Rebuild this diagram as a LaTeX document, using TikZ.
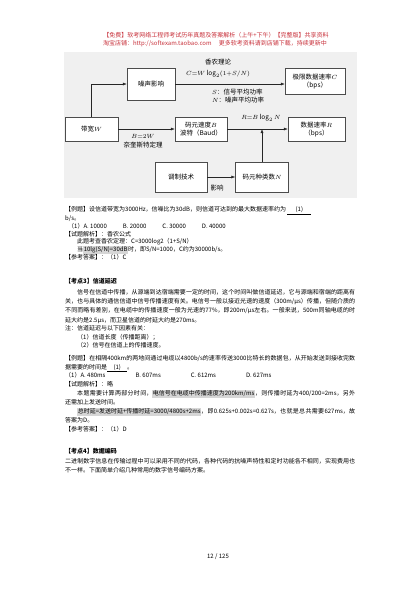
\documentclass[tikz,border=0pt]{standalone}
\usepackage{fontspec}
\setmainfont{Noto Sans CJK SC}
\usepackage{xcolor}
\usepackage{tikz}
\usetikzlibrary{arrows.meta}
\XeTeXlinebreaklocale "zh"
\XeTeXlinebreakskip = 0pt plus 1pt

\definecolor{hdred}{HTML}{C8303A}
\definecolor{figbg}{HTML}{F0F0F0}
\definecolor{hlgray}{HTML}{D6D6D6}
\setlength{\fboxsep}{0.6pt}
\newcommand{\hlbox}[1]{\colorbox{hlgray}{#1}}
\newcommand{\blank}[1]{\underline{\makebox[#1]{(1)}}}

\tikzset{
  box/.style={draw=black!70, fill=white, align=center, inner sep=1pt,
              font=\fontsize{6.5}{8}\selectfont},
  lbl/.style={font=\fontsize{6.5}{8}\selectfont, inner sep=0pt},
  arr/.style={-{Latex[length=4pt,width=3pt]}, black!85, line width=0.5pt},
  para/.style={anchor=north west, text width=290pt, align=justify, inner sep=0pt,
               font=\fontsize{6}{8.8}\selectfont},
  tight/.style={font=\fontsize{6}{7.9}\selectfont},
  loose/.style={font=\fontsize{6}{9.3}\selectfont},
  head/.style={font=\fontsize{6}{8}\selectfont, text=hdred, inner sep=0pt}
}

\begin{document}
\begin{tikzpicture}[x=1pt,y=-1pt]
        \useasboundingbox (0,0) rectangle (420,595);
        \fill[white] (0,0) rectangle (420,595);

        % header lines
        \node[head] (hdA) at (216,35) {【免费】软考网络工程师考试历年真题及答案解析（上午+下午）【完整版】共享资料};
        \node[head] (hdB) at (215,44) {淘宝店铺：http://softexam.taobao.com \quad 更多软考资料请到店铺下载，持续更新中};

        % figure background
        \fill[figbg] (64,52) rectangle (357,198);

        % boxes
        \node[box, minimum width=53pt, minimum height=24pt] (W)     at ( 91.5,129) {带宽$W$};
        \node[box, minimum width=48pt, minimum height=32pt] (noise) at (151,  84)  {噪声影响};
        \node[box, minimum width=60pt, minimum height=26pt] (C)     at (315,  81)  {极限数据速率$C$\\（bps）};
        \node[box, minimum width=52pt, minimum height=24pt] (B)     at (201, 129)  {码元速度$B$\\波特（Baud）};
        \node[box, minimum width=57pt, minimum height=24pt] (R)     at (316.5,129) {数据速率$R$\\（bps）};
        \node[box, minimum width=52pt, minimum height=30pt] (mod)   at (181, 177)  {调制技术};
        \node[box, minimum width=53pt, minimum height=30pt] (N)     at (262, 177)  {码元种类数$N$};

        % arrows
        \draw[arr] (W.north) |- (noise.west);
        \draw[arr] (noise.east) -- (noise.east -| C.west);
        \draw[arr] (W.east) -- (B.west);
        \draw[arr] (B.east) -- (R.west);
        \draw[arr] (mod.east) -- (N.west);
        \draw[arr] (N.north) -- (N.north |- B.east);

        % labels
        \node[lbl] (shannon) at (218, 62) {香农理论};
        \node[lbl] (fC)      at (218, 74) {$C{=}W\log_2(1{+}S/N)$};
        \node[lbl, anchor=west] (sS) at (212, 92) {$S$：信号平均功率};
        \node[lbl, anchor=west] (sN) at (212,100) {$N$：噪声平均功率};
        \node[lbl] (fR)      at (261,118) {$R{=}B\log_2 N$};
        \node[lbl] (fB)      at (143,136) {$B{=}2W$};
        \node[lbl] (nyq)     at (143,145) {奈奎斯特定理};
        \node[lbl] (eff)     at (217,188) {影响};

        % example 1
        \node[para, tight] (exA) at (65,206) {【例题】设信道带宽为3000Hz，信噪比为30dB，则信道可达到的最大数据速率约为\ \blank{24pt}\\
            b/s。\\
            \hspace*{3pt}（1）A. 10000\hspace{16pt}B. 20000\hspace{16pt}C. 30000\hspace{16pt}D. 40000\\
            【试题解析】：香农公式\\
            \hspace*{12pt}此题考查香农定理：C=3000log2（1+S/N）\\
            \hspace*{12pt}当\hlbox{10lg(S/N)=30dB}时，即S/N=1000，C约为30000b/s。\\
            【参考答案】：（1）C};

        % topic 3
        \node[para] (tpA) at (65,278) {\textbf{【考点3】信道延迟}};
        \node[para, loose] (tpB) at (65,289) {\hspace*{12pt}信号在信道中传播，从源端到达宿端需要一定的时间，这个时间叫做信道延迟，它与源端和宿端的距离有关，也与具体的通信信道中信号传播速度有关。电信号一般以接近光速的速度（300m/μs）传播，但随介质的不同而略有差别，在电缆中的传播速度一般为光速的77\%，即200m/μs左右。一般来说，500m同轴电缆的时延大约是2.5μs，而卫星信道的时延大约是270ms。};
        \node[para] (tpC) at (65,325) {注：信道延迟与以下因素有关：\\
            \hspace*{12pt}（1）信道长度（传播距离）；\\
            \hspace*{12pt}（2）信号在信道上的传播速度。};

        % example 2
        \node[para] (exB) at (65,355) {【例题】在相隔400km的两地间通过电缆以4800b/s的速率传送3000比特长的数据包，从开始发送到接收完数据需要的时间是\blank{20pt}。\\
            （1）A. 480ms\hspace{30pt}B. 607ms\hspace{30pt}C. 612ms\hspace{30pt}D. 627ms\\
            【试题解析】：略};
        \node[para] (exC) at (65,390) {\hspace*{12pt}本题需要计算两部分时间，\hlbox{电信号在电缆中传播速度为200km/ms}，则传播时延为400/200=2ms，另外还需加上发送时间。};
        \node[para] (exD) at (65,408) {\hspace*{12pt}\hlbox{总时延=发送时延+传播时延=3000/4800s+2ms}，即0.625s+0.002s=0.627s，也就是总共需要627ms，故答案为D。\\
            【参考答案】：（1）D};

        % topic 4
        \node[para] (tpD) at (65,448) {\textbf{【考点4】数据编码}};
        \node[para] (tpE) at (65,458) {二进制数字信息在传输过程中可以采用不同的代码，各种代码的抗噪声特性和定时功能各不相同，实现费用也不一样。下面简单介绍几种常用的数字信号编码方案。};

        % page number
        \node[lbl, font=\fontsize{6}{8}\selectfont] (pg) at (218,557) {12 / 125};
\end{tikzpicture}
\end{document}
